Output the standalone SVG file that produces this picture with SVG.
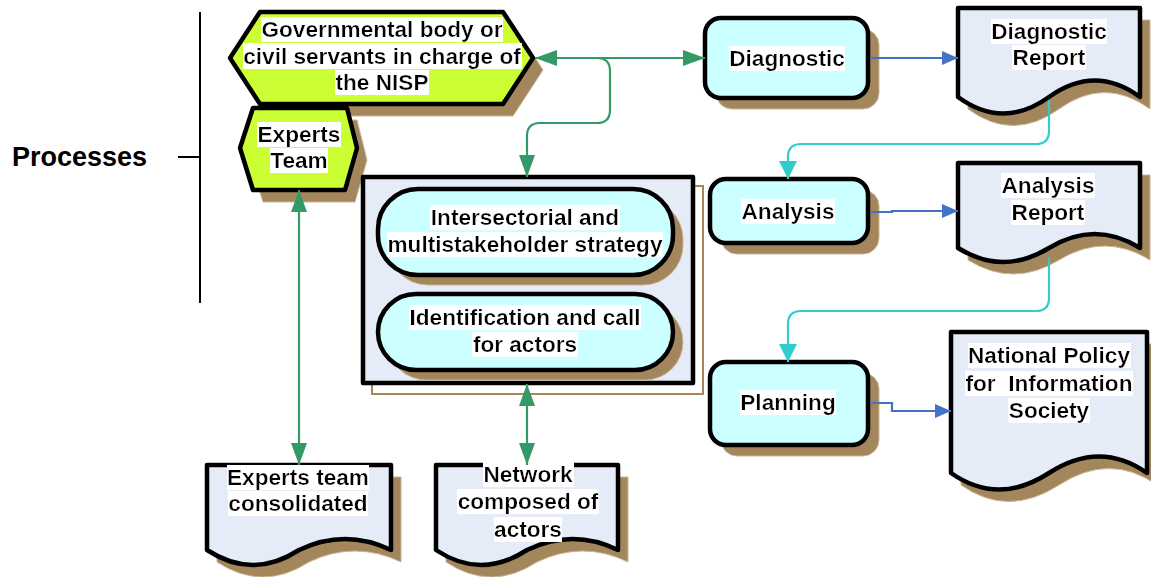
<svg xmlns="http://www.w3.org/2000/svg" width="1151" height="577" viewBox="0 0 1151 577">
<style>
text{font-family:"Liberation Sans",Arial,sans-serif;font-weight:bold;font-size:22.6px;fill:#000;text-anchor:middle;white-space:pre}
.lbl{filter:url(#bg)}
.shape{stroke:#000;stroke-width:4.5;stroke-linejoin:round}
.shadow{fill:#a3865c;stroke:#c9b796;stroke-width:1}
.lime{fill:#ccff33}
.cyanf{fill:#ccffff}
.doc{fill:#e6ecf7}
.g{fill:none;stroke:#339966;stroke-width:2.2}
.b{fill:none;stroke:#4472c4;stroke-width:2.2}
.c{fill:none;stroke:#33cccc;stroke-width:2.2}
</style>
<defs>
<filter id="bg" x="0" y="0" width="1" height="1"><feFlood flood-color="#ffffff"/><feComposite in="SourceGraphic" operator="over"/></filter>
<marker id="ag" markerUnits="userSpaceOnUse" markerWidth="22" markerHeight="16" refX="22" refY="8" orient="auto-start-reverse"><path d="M0,0 L22,8 L0,16 Z" fill="#339966"/></marker>
<marker id="ab" markerUnits="userSpaceOnUse" markerWidth="16" markerHeight="14" refX="16" refY="7" orient="auto-start-reverse"><path d="M0,0 L16,7 L0,14 Z" fill="#4472c4"/></marker>
<marker id="ac" markerUnits="userSpaceOnUse" markerWidth="20" markerHeight="18" refX="18" refY="9" orient="auto-start-reverse"><path d="M0,0 L18,9 L0,18 Z" fill="#33cccc"/></marker>
</defs>

<g id="processes">
<text x="12" y="166" style="font-size:27px;text-anchor:start">Processes</text>
<line x1="178" y1="157" x2="200" y2="157" stroke="#000" stroke-width="2"/>
<line x1="200" y1="12" x2="200" y2="303" stroke="#000" stroke-width="2"/>
</g>

<g id="gov">
<polygon class="shadow" transform="translate(10,12)" points="230,58 260,12 503,12 533,58 503,104 260,104"/>
<polygon class="shape lime" points="230,58 260,12 503,12 533,58 503,104 260,104"/>
<text class="lbl" x="382" y="37">Governmental body or</text>
<text class="lbl" x="382" y="63.5">civil servants in charge of</text>
<text class="lbl" x="382" y="90">the NISP</text>
</g>

<g id="experts-team">
<polygon class="shadow" transform="translate(10,12)" points="240,148 253,108 347,108 357,148 345,190 253,190"/>
<polygon class="shape lime" points="240,148 253,108 347,108 357,148 345,190 253,190"/>
<text class="lbl" x="299" y="142">Experts</text>
<text class="lbl" x="299" y="168">Team</text>
</g>

<g id="diagnostic">
<rect class="shadow" x="716" y="29" width="163" height="80" rx="16"/>
<rect class="shape cyanf" x="705" y="18" width="163" height="80" rx="16"/>
<text class="lbl" x="787" y="66">Diagnostic</text>
</g>

<g id="diagnostic-report">
<path class="shadow" transform="translate(10,12)" d="M958,8 H1140 V97 Q1095,64 1049,97 Q1003,130 958,97 Z"/>
<path class="shape doc" d="M958,8 H1140 V97 Q1095,64 1049,97 Q1003,130 958,97 Z"/>
<text class="lbl" x="1049" y="39">Diagnostic</text>
<text class="lbl" x="1049" y="65">Report</text>
</g>

<g id="analysis">
<rect class="shadow" x="721" y="190" width="158" height="64" rx="16"/>
<rect class="shape cyanf" x="710" y="179" width="158" height="64" rx="16"/>
<text class="lbl" x="788" y="219">Analysis</text>
</g>

<g id="analysis-report">
<path class="shadow" transform="translate(10,12)" d="M958,163 H1140 V248 Q1095,220 1049,248 Q1003,276 958,248 Z"/>
<path class="shape doc" d="M958,163 H1140 V248 Q1095,220 1049,248 Q1003,276 958,248 Z"/>
<text class="lbl" x="1048" y="193">Analysis</text>
<text class="lbl" x="1048" y="220">Report</text>
</g>

<g id="planning">
<rect class="shadow" x="721" y="373" width="158" height="83" rx="16"/>
<rect class="shape cyanf" x="710" y="362" width="158" height="83" rx="16"/>
<text class="lbl" x="788" y="410">Planning</text>
</g>

<g id="nisp">
<path class="shadow" transform="translate(10,12)" d="M951,332 H1147 V473 Q1100,440 1049,473 Q998,506 951,473 Z"/>
<path class="shape doc" d="M951,332 H1147 V473 Q1100,440 1049,473 Q998,506 951,473 Z"/>
<text class="lbl" x="1049" y="363">National Policy</text>
<text class="lbl" x="1049" y="391">for  Information</text>
<text class="lbl" x="1049" y="418">Society</text>
</g>

<g id="strategy-container">
<rect x="372" y="186" width="331" height="208" fill="none" stroke="#a3865c" stroke-width="2"/>
<rect class="shape doc" x="363" y="177" width="330" height="206"/>
<g id="intersectorial">
<rect class="shadow" x="388" y="199" width="295" height="86" rx="40"/>
<rect class="shape cyanf" x="378" y="189" width="295" height="86" rx="40"/>
<text class="lbl" x="525" y="225">Intersectorial and</text>
<text class="lbl" x="525" y="252">multistakeholder strategy</text>
</g>
<g id="identification">
<rect class="shadow" x="388" y="304" width="295" height="76" rx="38"/>
<rect class="shape cyanf" x="378" y="294" width="295" height="76" rx="38"/>
<text class="lbl" x="525" y="325">Identification and call</text>
<text class="lbl" x="525" y="352">for actors</text>
</g>
</g>

<g id="experts-consolidated">
<path class="shadow" transform="translate(10,12)" d="M207,465 H391 V550 Q345,528 299,550 Q253,580 207,550 Z"/>
<path class="shape doc" d="M207,465 H391 V550 Q345,528 299,550 Q253,580 207,550 Z"/>
<text class="lbl" x="298" y="485">Experts team</text>
<text class="lbl" x="298" y="511">consolidated</text>
</g>

<g id="network">
<path class="shadow" transform="translate(10,12)" d="M436,465 H618 V550 Q573,528 527,550 Q481,580 436,550 Z"/>
<path class="shape doc" d="M436,465 H618 V550 Q573,528 527,550 Q481,580 436,550 Z"/>
<text class="lbl" x="528" y="482">Network</text>
<text class="lbl" x="528" y="509">composed of</text>
<text class="lbl" x="528" y="537">actors</text>
</g>

<g id="connectors">
<line class="g" x1="535" y1="58" x2="705" y2="58" marker-start="url(#ag)" marker-end="url(#ag)"/>
<path class="g" d="M597,58 Q610,58 610,71 V110 Q610,123 597,123 H540 Q527,123 527,136 V177" marker-end="url(#ag)"/>
<line class="g" x1="299" y1="190" x2="299" y2="465" marker-start="url(#ag)" marker-end="url(#ag)"/>
<line class="g" x1="527" y1="384" x2="527" y2="465" marker-start="url(#ag)" marker-end="url(#ag)"/>
<line class="b" x1="870" y1="58" x2="958" y2="58" marker-end="url(#ab)"/>
<path class="c" d="M1049,100 V131 Q1049,144 1036,144 H801 Q788,144 788,157 V179" marker-end="url(#ac)"/>
<path class="b" d="M870,212 H892 V211 H958" marker-end="url(#ab)"/>
<path class="c" d="M1049,258 V298 Q1049,311 1036,311 H801 Q788,311 788,324 V362" marker-end="url(#ac)"/>
<path class="b" d="M870,403 H892 V411 H951" marker-end="url(#ab)"/>
</g>
</svg>
